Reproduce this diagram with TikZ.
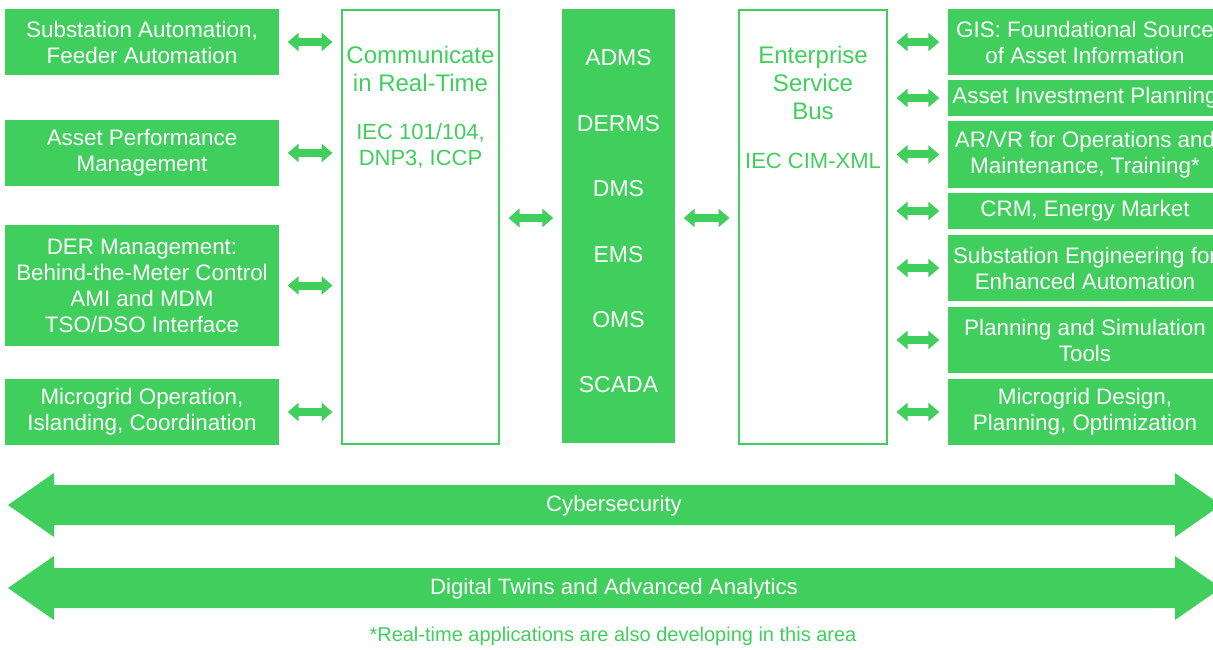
\documentclass[tikz,border=0pt]{standalone}
\usepackage{fontspec}
\setmainfont{Liberation Sans}
\usetikzlibrary{positioning,arrows.meta}
\definecolor{grbox}{RGB}{64,206,92}

\begin{document}
\begin{tikzpicture}[x=1pt, y=-1pt,
    appbox/.style={fill=grbox, text=white, minimum width=274pt, inner sep=0pt,
      align=center, font=\fontsize{22.4}{26}\selectfont},
    linebox/.style={draw=grbox, line width=2pt, inner sep=0pt},
    corebox/.style={fill=grbox, inner sep=0pt},
    headtxt/.style={text=grbox, align=center, inner sep=0pt, font=\fontsize{24}{28}\selectfont},
    stdtxt/.style={text=grbox, align=center, inner sep=0pt, font=\fontsize{22}{26}\selectfont},
    bandtxt/.style={text=white, font=\fontsize{22.2}{26}\selectfont},
    link/.style={grbox, line width=8pt,
      {Triangle[length=11pt,width=18pt]}-{Triangle[length=11pt,width=18pt]},
      shorten <=8.5pt, shorten >=8.5pt}]
  \useasboundingbox (0,0) rectangle (1213,650);
  \clip (0,0) rectangle (1213,650);

  % left column
  \node[appbox, minimum height=66pt] (sub) at (142,42) {Substation Automation,\\Feeder Automation};
  \node[appbox, minimum height=66pt] (apm) at (142,153) {Asset Performance\\Management};
  \node[appbox, minimum height=121pt] (der) at (142,285.5) {DER Management:\\Behind-the-Meter Control\\AMI and MDM\\TSO/DSO Interface};
  \node[appbox, minimum height=66pt] (mgo) at (142,412) {Microgrid Operation,\\Islanding, Coordination};

  % real-time comms
  \node[linebox, minimum width=157pt, minimum height=434pt] (comm) at (420.5,227) {};
  \node[headtxt, below=37pt of comm.north] (commt) {Communicate\\in Real-Time};
  \node[stdtxt, below=31pt of commt] (proto) {IEC 101/104,\\DNP3, ICCP};

  % core systems
  \node[corebox, minimum width=113pt, minimum height=434pt] (core) at (618.5,226) {};
  \foreach \lbl [count=\i] in {ADMS,DERMS,DMS,EMS,OMS,SCADA}
    \node[text=white, inner sep=0pt, font=\fontsize{23}{27}\selectfont] (sys\i) at (618.5,{58+65.4*(\i-1)}) {\lbl};

  % enterprise service bus
  \node[linebox, minimum width=148pt, minimum height=434pt] (esb) at (813,227) {};
  \node[headtxt, below=37pt of esb.north] (esbt) {Enterprise\\Service\\Bus};
  \node[stdtxt, below=33pt of esbt] (cim) {IEC CIM-XML};

  % right column
  \node[appbox, minimum height=66pt] (gis) at (1085,42) {GIS: Foundational Source\\of Asset Information};
  \node[appbox, minimum height=36pt] (aip) at (1085,98) {Asset Investment Planning};
  \node[appbox, minimum height=67pt] (arvr) at (1085,154.5) {AR/VR for Operations and\\Maintenance, Training*};
  \node[appbox, minimum height=36pt] (crm) at (1085,211) {CRM, Energy Market};
  \node[appbox, minimum height=66pt] (sube) at (1085,268) {Substation Engineering for\\Enhanced Automation};
  \node[appbox, minimum height=66pt] (plan) at (1085,340) {Planning and Simulation\\Tools};
  \node[appbox, minimum height=66pt] (mgd) at (1085,412) {Microgrid Design,\\Planning, Optimization};

  % links
  \foreach \n in {sub,apm,der,mgo}
    \draw[link] (\n.east) -- (\n.east -| comm.west);
  \coordinate (mid) at (0,218);
  \draw[link] (mid -| comm.east) -- (mid -| core.west);
  \draw[link] (mid -| core.east) -- (mid -| esb.west);
  \foreach \n in {gis,aip,arvr,crm,sube,plan,mgd}
    \draw[link] (\n.west -| esb.east) -- (\n.west);

  % wide bands
  \fill[grbox] (8,505) -- (54,473) -- (54,485) -- (1175,485) -- (1175,473) -- (1221,505)
    -- (1175,537) -- (1175,525) -- (54,525) -- (54,537) -- cycle;
  \node[bandtxt] (cyber) at (614,506) {Cybersecurity};
  \fill[grbox] (8,588) -- (54,556) -- (54,568) -- (1175,568) -- (1175,556) -- (1221,588)
    -- (1175,620) -- (1175,608) -- (54,608) -- (54,620) -- cycle;
  \node[bandtxt] (twins) at (614,589) {Digital Twins and Advanced Analytics};

  \node[text=grbox, font=\fontsize{20}{24}\selectfont] (note) at (613,636) {*Real-time applications are also developing in this area};
\end{tikzpicture}
\end{document}
